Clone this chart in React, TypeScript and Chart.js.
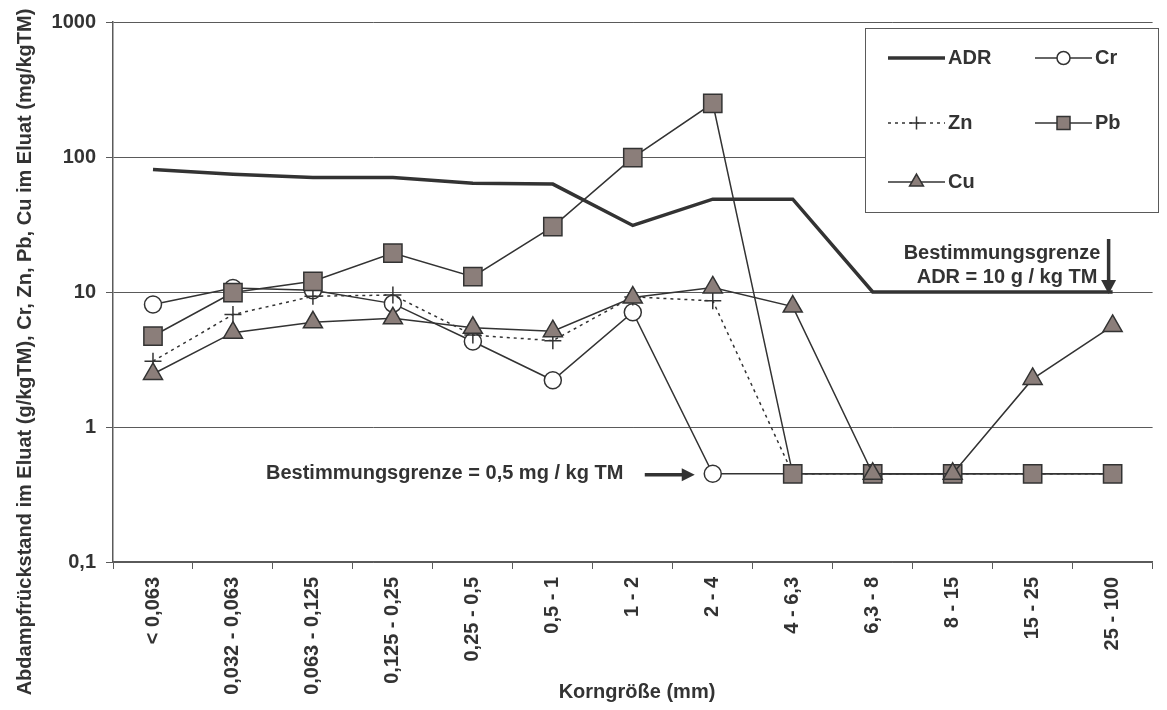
import React, { useEffect, useRef } from "react";
import { Chart, registerables } from "chart.js";

Chart.register(...registerables);

const categories = [
  "< 0,063",
  "0,032 - 0,063",
  "0,063 - 0,125",
  "0,125 - 0,25",
  "0,25 - 0,5",
  "0,5 - 1",
  "1 - 2",
  "2 - 4",
  "4 - 6,3",
  "6,3 - 8",
  "8 - 15",
  "15 - 25",
  "25 - 100",
];

const adrValues = [80.7, 74.4, 70.5, 70.5, 64, 63, 31.1, 48.7, 48.7, 10, 10, 10, 10];
const crValues = [8.07, 10.7, 10.3, 8.2, 4.3, 2.22, 7.08, 0.45, 0.45, 0.45, 0.45, 0.45, 0.45];
const znValues = [3.07, 6.8, 9.3, 9.5, 4.8, 4.36, 9.2, 8.6, 0.45, 0.45, 0.45, 0.45, 0.45];
const pbValues = [4.72, 9.9, 12.0, 19.4, 13.0, 30.5, 98.9, 250, 0.45, 0.45, 0.45, 0.45, 0.45];
const cuValues = [2.47, 5.0, 5.96, 6.38, 5.43, 5.13, 9.1, 10.8, 7.8, 0.45, 0.45, 2.27, 5.6];

const yTickValues = [0.1, 1, 10, 100, 1000];
const yTickLabels = ["0,1", "1", "10", "100", "1000"];

const yTitle = "Abdampfrückstand im Eluat (g/kgTM), Cr, Zn, Pb, Cu im Eluat (mg/kgTM)";
const xTitle = "Korngröße (mm)";
const noteAdr = ["Bestimmungsgrenze", "ADR = 10 g / kg TM"];
const noteLimit = "Bestimmungsgrenze = 0,5 mg / kg TM";
const adrLimit = 10;
const metalLimit = 0.45;

const FONT = '"Liberation Sans", Arial, Helvetica, sans-serif';
const TEXT = "#333333";
const LINE = "#333333";
const GRID = "#5a5a5a";
const FILL = "#8b7e7a";

function drawMarker(ctx: CanvasRenderingContext2D, style: string, x: number, y: number, r: number) {
  ctx.save();
  ctx.lineWidth = 1.5;
  ctx.strokeStyle = LINE;
  ctx.setLineDash([]);
  ctx.beginPath();
  if (style === "circle") {
    ctx.fillStyle = "#ffffff";
    ctx.arc(x, y, r, 0, Math.PI * 2);
    ctx.fill();
    ctx.stroke();
  } else if (style === "rect") {
    ctx.fillStyle = FILL;
    ctx.rect(x - r, y - r, 2 * r, 2 * r);
    ctx.fill();
    ctx.stroke();
  } else if (style === "triangle") {
    ctx.fillStyle = FILL;
    ctx.moveTo(x, y - r);
    ctx.lineTo(x + r * Math.sin((2 * Math.PI) / 3), y - r * Math.cos((2 * Math.PI) / 3));
    ctx.lineTo(x + r * Math.sin((4 * Math.PI) / 3), y - r * Math.cos((4 * Math.PI) / 3));
    ctx.closePath();
    ctx.fill();
    ctx.stroke();
  } else if (style === "cross") {
    ctx.moveTo(x - r, y);
    ctx.lineTo(x + r, y);
    ctx.moveTo(x, y - r);
    ctx.lineTo(x, y + r);
    ctx.stroke();
  }
  ctx.restore();
}

const overlayPlugin = {
  id: "overlay",
  afterDraw(chart: any) {
    const ctx: CanvasRenderingContext2D = chart.ctx;
    const xs = chart.scales.x;
    const ys = chart.scales.y;
    ctx.save();
    ctx.fillStyle = TEXT;

    // Y title
    ctx.save();
    ctx.font = `bold 20px ${FONT}`;
    ctx.translate(25, 352);
    ctx.rotate(-Math.PI / 2);
    ctx.textAlign = "center";
    ctx.textBaseline = "middle";
    ctx.fillText(yTitle, 0, 0);
    ctx.restore();

    // X title
    ctx.font = `bold 20px ${FONT}`;
    ctx.textAlign = "center";
    ctx.textBaseline = "middle";
    ctx.fillText(xTitle, 637, 692);

    // ADR note
    const ax = xs.getPixelForValue(12);
    const ay = ys.getPixelForValue(adrLimit);
    ctx.fillText(noteAdr[0], 1002, ay - 39);
    ctx.fillText(noteAdr[1], 1007, ay - 15);
    ctx.strokeStyle = LINE;
    ctx.fillStyle = LINE;
    ctx.lineWidth = 3.5;
    ctx.beginPath();
    ctx.moveTo(ax - 4, ay - 53);
    ctx.lineTo(ax - 4, ay - 10);
    ctx.stroke();
    ctx.beginPath();
    ctx.moveTo(ax - 11.5, ay - 12);
    ctx.lineTo(ax + 3.5, ay - 12);
    ctx.lineTo(ax - 4, ay + 2);
    ctx.closePath();
    ctx.fill();

    // Metal limit note
    const lx = xs.getPixelForValue(7);
    const ly = ys.getPixelForValue(metalLimit);
    ctx.fillStyle = TEXT;
    ctx.textAlign = "left";
    ctx.fillText(noteLimit, 266, ly - 0.5);
    ctx.beginPath();
    ctx.moveTo(lx - 68, ly + 1);
    ctx.lineTo(lx - 28, ly + 1);
    ctx.stroke();
    ctx.beginPath();
    ctx.moveTo(lx - 31, ly - 5.5);
    ctx.lineTo(lx - 18, ly + 1);
    ctx.lineTo(lx - 31, ly + 7.5);
    ctx.closePath();
    ctx.fillStyle = LINE;
    ctx.fill();

    // Legend
    const bx = 865, by = 28, bw = 293, bh = 184;
    ctx.fillStyle = "#ffffff";
    ctx.fillRect(bx, by, bw, bh);
    ctx.strokeStyle = GRID;
    ctx.lineWidth = 1;
    ctx.strokeRect(bx + 0.5, by + 0.5, bw, bh);

    const items = [
      { ds: 0, col: 0, row: 0, marker: "", r: 0 },
      { ds: 1, col: 1, row: 0, marker: "circle", r: 6.5 },
      { ds: 2, col: 0, row: 1, marker: "cross", r: 6.5 },
      { ds: 3, col: 1, row: 1, marker: "rect", r: 6.5 },
      { ds: 4, col: 0, row: 2, marker: "triangle", r: 8 },
    ];
    const colX = [888, 1035];
    const rowY = [58, 123, 182];
    items.forEach((it) => {
      const d = chart.data.datasets[it.ds];
      const x0 = colX[it.col];
      const y0 = rowY[it.row];
      ctx.save();
      ctx.strokeStyle = LINE;
      ctx.lineWidth = d.borderWidth;
      ctx.setLineDash(d.borderDash || []);
      ctx.beginPath();
      ctx.moveTo(x0, y0);
      ctx.lineTo(x0 + 57, y0);
      ctx.stroke();
      ctx.restore();
      if (it.marker) drawMarker(ctx, it.marker, x0 + 28.5, y0, it.r);
      ctx.fillStyle = TEXT;
      ctx.font = `bold 20px ${FONT}`;
      ctx.textAlign = "left";
      ctx.textBaseline = "middle";
      ctx.fillText(d.label, x0 + 60, y0);
    });

    ctx.restore();
  },
};

export default function App() {
  const canvasRef = useRef<HTMLCanvasElement | null>(null);

  useEffect(() => {
    const canvas = canvasRef.current;
    if (!canvas) return;
    const tickFont = { family: FONT, size: 20, weight: "bold" as const };
    const chart = new Chart(canvas, {
      type: "line",
      data: {
        labels: categories,
        datasets: [
          {
            label: "ADR",
            data: adrValues,
            borderColor: LINE,
            borderWidth: 3.5,
            pointRadius: 0,
            tension: 0,
            order: 4,
          },
          {
            label: "Cr",
            data: crValues,
            borderColor: LINE,
            borderWidth: 1.5,
            pointStyle: "circle",
            pointRadius: 8.5,
            pointBackgroundColor: "#ffffff",
            pointBorderColor: LINE,
            pointBorderWidth: 1.5,
            tension: 0,
            order: 3,
          },
          {
            label: "Zn",
            data: znValues,
            borderColor: LINE,
            borderWidth: 1.5,
            borderDash: [3, 4],
            pointStyle: "cross",
            pointRadius: 8.5,
            pointBorderColor: LINE,
            pointBorderWidth: 1.5,
            tension: 0,
            order: 2,
          },
          {
            label: "Pb",
            data: pbValues,
            borderColor: LINE,
            borderWidth: 1.5,
            pointStyle: "rect",
            pointRadius: 12.9,
            pointBackgroundColor: FILL,
            pointBorderColor: LINE,
            pointBorderWidth: 1.5,
            tension: 0,
            order: 1,
          },
          {
            label: "Cu",
            data: cuValues,
            borderColor: LINE,
            borderWidth: 1.5,
            pointStyle: "triangle",
            pointRadius: 11,
            pointBackgroundColor: FILL,
            pointBorderColor: LINE,
            pointBorderWidth: 1.5,
            tension: 0,
            order: 0,
          },
        ],
      },
      options: {
        animation: false,
        responsive: false,
        devicePixelRatio: 1,
        layout: { padding: { top: 18, right: 2, left: 0, bottom: 0 } },
        plugins: {
          legend: { display: false },
          tooltip: { enabled: false },
        },
        scales: {
          x: {
            type: "category",
            offset: true,
            afterFit: (s: any) => {
              s.height = 148;
            },
            ticks: {
              autoSkip: false,
              minRotation: 90,
              maxRotation: 90,
              padding: 8,
              color: TEXT,
              font: tickFont,
            },
            grid: {
              offset: true,
              drawOnChartArea: false,
              tickLength: 7,
              color: GRID,
            },
            border: { color: GRID, width: 1.5 },
          },
          y: {
            type: "logarithmic",
            min: 0.1,
            max: 1000,
            afterBuildTicks: (s: any) => {
              s.ticks = yTickValues.map((v) => ({ value: v, major: true }));
            },
            afterFit: (s: any) => {
              s.width = 113;
            },
            ticks: {
              padding: 10,
              color: TEXT,
              font: tickFont,
              callback: (v: any) => {
                const i = yTickValues.indexOf(Number(v));
                return i >= 0 ? yTickLabels[i] : "";
              },
            },
            grid: {
              color: GRID,
              lineWidth: 1,
              tickLength: 7,
            },
            border: { color: GRID, width: 1.5 },
          },
        },
      },
      plugins: [overlayPlugin],
    });
    return () => chart.destroy();
  }, []);

  return (
    <div style={{ position: "absolute", left: 0, top: 0, width: 1167, height: 710, background: "#ffffff" }}>
      <canvas ref={canvasRef} width={1167} height={710} style={{ display: "block" }} />
    </div>
  );
}
